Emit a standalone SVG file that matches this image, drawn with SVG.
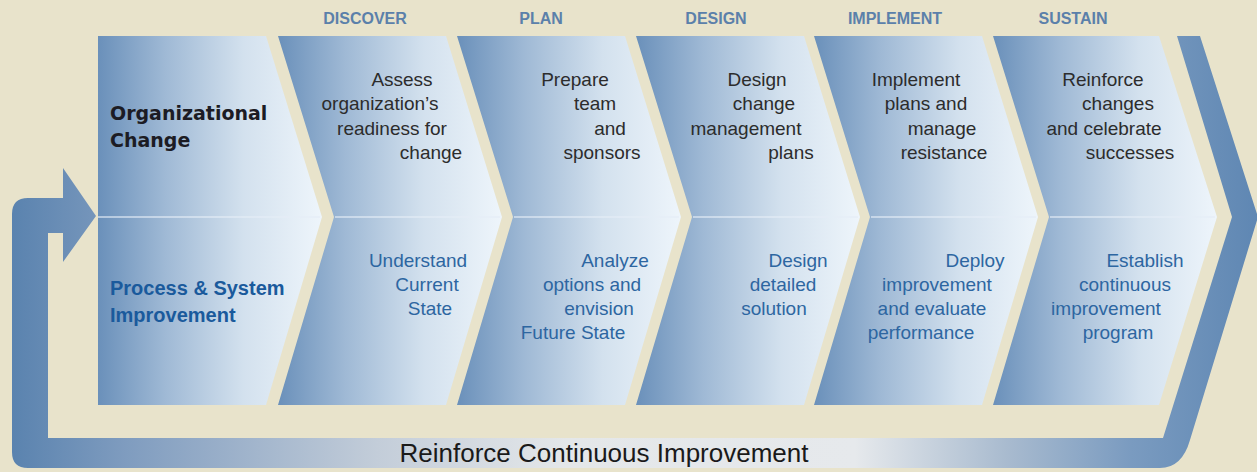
<svg xmlns="http://www.w3.org/2000/svg" width="1257" height="472" viewBox="0 0 1257 472">
<defs>
<linearGradient id="chev" x1="0" y1="0" x2="1" y2="0">
<stop offset="0" stop-color="#6a90ba"/>
<stop offset="0.3" stop-color="#9fb9d5"/>
<stop offset="0.65" stop-color="#d3e1ee"/>
<stop offset="1" stop-color="#eef5fb"/>
</linearGradient>
<linearGradient id="band" gradientUnits="userSpaceOnUse" x1="0" y1="0" x2="1257" y2="0">
<stop offset="0" stop-color="#5680ad"/>
<stop offset="0.1" stop-color="#7f9cbf"/>
<stop offset="0.3" stop-color="#c3cdd9"/>
<stop offset="0.45" stop-color="#e4e7e9"/>
<stop offset="0.68" stop-color="#e6e9ec"/>
<stop offset="0.8" stop-color="#a9bbcf"/>
<stop offset="0.9" stop-color="#7a9bc0"/>
<stop offset="1" stop-color="#5f87b3"/>
</linearGradient>
<style>
.chev{fill:url(#chev)}
.div{stroke:#e6eef7;stroke-width:1.5;opacity:0.8}
.stage{font-family:'Liberation Sans',Arial,sans-serif;font-weight:bold;font-size:16px;fill:#5b80aa;text-anchor:middle}
.top{font-family:'Liberation Sans',Arial,sans-serif;font-size:19px;fill:#2c2c2c;text-anchor:middle}
.low{font-family:'Liberation Sans',Arial,sans-serif;font-size:19px;fill:#2d66a1;text-anchor:middle}
.org{font-family:'DejaVu Sans',sans-serif;font-weight:bold;font-size:19px;fill:#1c1c24}
.psi{font-family:'Liberation Sans',Arial,sans-serif;font-weight:bold;font-size:20px;fill:#1a5a9c}
.loop{font-family:'Liberation Sans',Arial,sans-serif;font-size:26px;fill:#1a1a1a;text-anchor:middle}
</style>
</defs>
<rect width="1257" height="472" fill="#e8e3cb"/>

<g id="connectors">
<path d="M1177 36 L1200 36 L1258 217 L1190 440 Q1182 468 1160 468 L28 468 Q12 468 12 452 L12 214 Q12 198 28 198 L63 198 L63 168 L96 216 L63 262 L63 233 L48 233 L48 438 L1163 438 L1232 217 Z" fill="url(#band)"/>
<text class="loop" x="604" y="462">Reinforce Continuous Improvement</text>
</g>

<g id="row-labels">
<polygon class="chev" points="98,36 266,36 322,217 266,405 98,405"/>
<line class="div" x1="98" y1="217" x2="320" y2="217"/>
<text class="org" x="110" y="120">Organizational</text>
<text class="org" x="110" y="147">Change</text>
<text class="psi" x="110" y="295">Process &amp; System</text>
<text class="psi" x="110" y="322">Improvement</text>
</g>

<g id="discover">
<polygon class="chev" points="278,36 446,36 502,217 446,405 278,405 334,217"/>
<line class="div" x1="335" y1="217" x2="500" y2="217"/>
<text class="stage" x="365" y="24">DISCOVER</text>
<text class="top" x="402" y="86">Assess</text>
<text class="top" x="380" y="110">organization’s</text>
<text class="top" x="392" y="135">readiness for</text>
<text class="top" x="431" y="159">change</text>
<text class="low" x="418" y="267">Understand</text>
<text class="low" x="427" y="291">Current</text>
<text class="low" x="430" y="315">State</text>
</g>

<g id="plan">
<polygon class="chev" points="457,36 625,36 681,217 625,405 457,405 513,217"/>
<line class="div" x1="514" y1="217" x2="679" y2="217"/>
<text class="stage" x="541" y="24">PLAN</text>
<text class="top" x="575" y="86">Prepare</text>
<text class="top" x="595" y="110">team</text>
<text class="top" x="610" y="135">and</text>
<text class="top" x="602" y="159">sponsors</text>
<text class="low" x="615" y="267">Analyze</text>
<text class="low" x="592" y="291">options and</text>
<text class="low" x="599" y="315">envision</text>
<text class="low" x="573" y="339">Future State</text>
</g>

<g id="design">
<polygon class="chev" points="636,36 804,36 860,217 804,405 636,405 692,217"/>
<line class="div" x1="693" y1="217" x2="858" y2="217"/>
<text class="stage" x="716" y="24">DESIGN</text>
<text class="top" x="757" y="86">Design</text>
<text class="top" x="764" y="110">change</text>
<text class="top" x="746" y="135">management</text>
<text class="top" x="791" y="159">plans</text>
<text class="low" x="798" y="267">Design</text>
<text class="low" x="783" y="291">detailed</text>
<text class="low" x="774" y="315">solution</text>
</g>

<g id="implement">
<polygon class="chev" points="814,36 982,36 1038,217 982,405 814,405 870,217"/>
<line class="div" x1="871" y1="217" x2="1036" y2="217"/>
<text class="stage" x="895" y="24">IMPLEMENT</text>
<text class="top" x="916" y="86">Implement</text>
<text class="top" x="926" y="110">plans and</text>
<text class="top" x="942" y="135">manage</text>
<text class="top" x="944" y="159">resistance</text>
<text class="low" x="975" y="267">Deploy</text>
<text class="low" x="937" y="291">improvement</text>
<text class="low" x="932" y="315">and evaluate</text>
<text class="low" x="921" y="339">performance</text>
</g>

<g id="sustain">
<polygon class="chev" points="993,36 1159,36 1217,217 1159,405 993,405 1049,217"/>
<line class="div" x1="1050" y1="217" x2="1215" y2="217"/>
<text class="stage" x="1073" y="24">SUSTAIN</text>
<text class="top" x="1103" y="86">Reinforce</text>
<text class="top" x="1118" y="110">changes</text>
<text class="top" x="1104" y="135">and celebrate</text>
<text class="top" x="1130" y="159">successes</text>
<text class="low" x="1145" y="267">Establish</text>
<text class="low" x="1125" y="291">continuous</text>
<text class="low" x="1106" y="315">improvement</text>
<text class="low" x="1118" y="339">program</text>
</g>
</svg>
